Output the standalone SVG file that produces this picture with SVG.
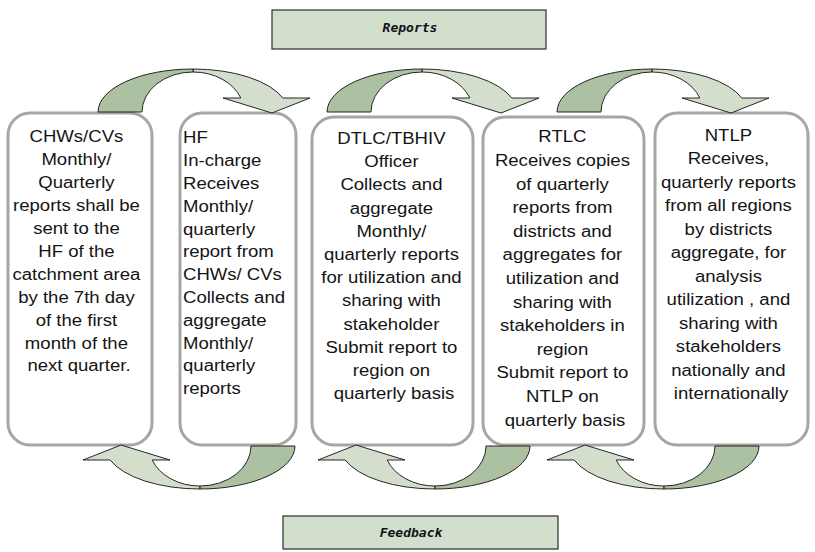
<svg xmlns="http://www.w3.org/2000/svg" xmlns:xlink="http://www.w3.org/1999/xlink" width="815" height="552" viewBox="0 0 815 552">
  <style>
    .box { fill: #ffffff; stroke: #a6a6a6; stroke-width: 3; }
    .lbl { fill: #d3dfcd; stroke: #2b2b2b; stroke-width: 1.2; }
    .txt { font-family: "Liberation Sans", Arial, Helvetica, sans-serif; font-size: 16px; fill: #141414; }
    .mid { text-anchor: middle; }
    .ttl { font-family: "DejaVu Sans Mono", "Liberation Mono", monospace; font-size: 13px; font-weight: bold; font-style: italic; fill: #111; text-anchor: middle; }
    .dark { fill: #abc1a2; stroke: #111; stroke-width: 0.9; stroke-linejoin: round; }
    .light { fill: #d3dfcc; stroke: #111; stroke-width: 0.9; stroke-linejoin: round; }
  </style>
  <defs>
    <!-- curved ribbon arrow: shaded back (tail) and front band with head -->
    <g id="curvedArrow">
      <path class="light" d="M0,-43 A95,43 0 0 1 89.8,-14 L117,-14 L79,1 L30,-14 L47.8,-14 A51,40 0 0 0 0,-40 Z"/>
      <path class="dark" d="M-95,0 A95,43 0 0 1 0,-43 L0,-40 A51,40 0 0 0 -51,0 Z"/>
    </g>
  </defs>

  <rect width="815" height="552" fill="#ffffff"/>

  <g id="reports">
    <rect class="lbl" x="272" y="10" width="274" height="39"/>
    <text class="ttl" x="410" y="32">Reports</text>
  </g>

  <g id="feedback">
    <rect class="lbl" x="283" y="516" width="275" height="33"/>
    <text class="ttl" x="411" y="537">Feedback</text>
  </g>

  <g id="chws">
    <rect class="box" x="8" y="113" width="144" height="332" rx="22"/>
    <text class="txt mid" transform="matrix(1.16,0,0,1,79,0)">
      <tspan x="0" y="142.5">CHWs/CVs</tspan>
      <tspan x="0" dy="22.9">Monthly/</tspan>
      <tspan x="0" dy="22.9">Quarterly</tspan>
      <tspan x="0" dy="22.9">reports shall be</tspan>
      <tspan x="0" dy="22.9">sent to the</tspan>
      <tspan x="0" dy="22.9">HF of the</tspan>
      <tspan x="0" dy="22.9">catchment area</tspan>
      <tspan x="0" dy="22.9">by the 7th day</tspan>
      <tspan x="0" dy="22.9">of the first</tspan>
      <tspan x="0" dy="22.9">month of the</tspan>
      <tspan x="0" dy="22.9">next quarter.</tspan>
    </text>
  </g>

  <g id="hf">
    <rect class="box" x="180" y="113" width="116" height="332" rx="22"/>
    <text class="txt" transform="matrix(1.16,0,0,1,183,0)">
      <tspan x="0" y="143.5">HF</tspan>
      <tspan x="0" dy="22.8">In-charge</tspan>
      <tspan x="0" dy="22.8">Receives</tspan>
      <tspan x="0" dy="22.8">Monthly/</tspan>
      <tspan x="0" dy="22.8">quarterly</tspan>
      <tspan x="0" dy="22.8">report from</tspan>
      <tspan x="0" dy="22.8">CHWs/ CVs</tspan>
      <tspan x="0" dy="22.8">Collects and</tspan>
      <tspan x="0" dy="22.8">aggregate</tspan>
      <tspan x="0" dy="22.8">Monthly/</tspan>
      <tspan x="0" dy="22.8">quarterly</tspan>
      <tspan x="0" dy="22.8">reports</tspan>
    </text>
  </g>

  <g id="dtlc">
    <rect class="box" x="312" y="117" width="161" height="328" rx="22"/>
    <text class="txt mid" transform="matrix(1.16,0,0,1,394,0)">
      <tspan x="0" y="144">DTLC/TBHIV</tspan>
      <tspan x="0" dy="23.2">Officer</tspan>
      <tspan x="0" dy="23.2">Collects and</tspan>
      <tspan x="0" dy="23.2">aggregate</tspan>
      <tspan x="0" dy="23.2">Monthly/</tspan>
      <tspan x="0" dy="23.2">quarterly reports</tspan>
      <tspan x="0" dy="23.2">for utilization and</tspan>
      <tspan x="0" dy="23.2">sharing with</tspan>
      <tspan x="0" dy="23.2">stakeholder</tspan>
      <tspan x="0" dy="23.2">Submit report to</tspan>
      <tspan x="0" dy="23.2">region on</tspan>
      <tspan x="0" dy="23.2">quarterly basis</tspan>
    </text>
  </g>

  <g id="rtlc">
    <rect class="box" x="483" y="117" width="161" height="328" rx="22"/>
    <text class="txt mid" transform="matrix(1.16,0,0,1,565,0)">
      <tspan x="0" y="142.5">RTLC</tspan>
      <tspan x="0" dy="23.6">Receives copies</tspan>
      <tspan x="0" dy="23.6">of quarterly</tspan>
      <tspan x="0" dy="23.6">reports from</tspan>
      <tspan x="0" dy="23.6">districts and</tspan>
      <tspan x="0" dy="23.6">aggregates for</tspan>
      <tspan x="0" dy="23.6">utilization and</tspan>
      <tspan x="0" dy="23.6">sharing with</tspan>
      <tspan x="0" dy="23.6">stakeholders in</tspan>
      <tspan x="0" dy="23.6">region</tspan>
      <tspan x="0" dy="23.6">Submit report to</tspan>
      <tspan x="0" dy="23.6">NTLP on</tspan>
      <tspan x="0" dy="23.6">quarterly basis</tspan>
    </text>
  </g>

  <g id="ntlp">
    <rect class="box" x="655" y="113" width="153" height="332" rx="22"/>
    <text class="txt mid" transform="matrix(1.16,0,0,1,731,0)">
      <tspan x="0" y="141">NTLP</tspan>
      <tspan x="0" dy="23.5">Receives,</tspan>
      <tspan x="0" dy="23.5">quarterly reports</tspan>
      <tspan x="0" dy="23.5">from all regions</tspan>
      <tspan x="0" dy="23.5">by districts</tspan>
      <tspan x="0" dy="23.5">aggregate, for</tspan>
      <tspan x="0" dy="23.5">analysis</tspan>
      <tspan x="0" dy="23.5">utilization ,  and</tspan>
      <tspan x="0" dy="23.5">sharing with</tspan>
      <tspan x="0" dy="23.5">stakeholders</tspan>
      <tspan x="0" dy="23.5">nationally and</tspan>
      <tspan x="0" dy="23.5">internationally</tspan>
    </text>
  </g>

  <g id="connectors">
    <!-- reporting flow (over the top) -->
    <use xlink:href="#curvedArrow" transform="translate(193,112)"/>
    <use xlink:href="#curvedArrow" transform="translate(422,112)"/>
    <use xlink:href="#curvedArrow" transform="translate(652,112)"/>
    <!-- feedback flow (underneath) -->
    <use xlink:href="#curvedArrow" transform="translate(200,446) rotate(180)"/>
    <use xlink:href="#curvedArrow" transform="translate(435,446) rotate(180)"/>
    <use xlink:href="#curvedArrow" transform="translate(664,446) rotate(180)"/>
  </g>
</svg>
